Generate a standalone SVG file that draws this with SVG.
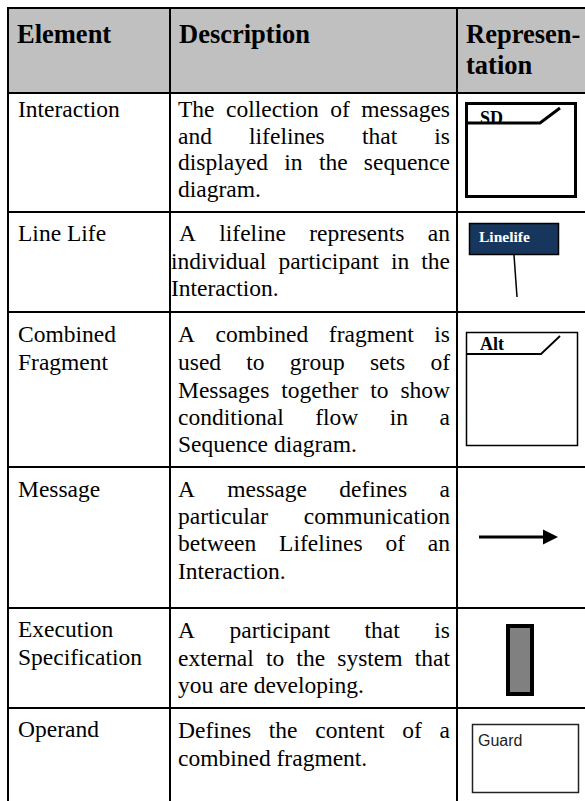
<svg xmlns="http://www.w3.org/2000/svg" width="585" height="801" viewBox="0 0 585 801">
  <style>
    .head { font-family: "Liberation Serif", "Times New Roman", serif; font-size: 26.5px; font-weight: bold; fill: #000; }
    .body { font-family: "Liberation Serif", "Times New Roman", serif; font-size: 23.5px; fill: #000; }
    .tag { font-family: "Liberation Serif", "Times New Roman", serif; font-size: 18px; font-weight: bold; fill: #000; }
    .rule { stroke: #000; stroke-width: 2; fill: none; }
    .sym { stroke: #000; fill: none; }
  </style>
  <rect width="585" height="801" fill="#fff"/>

  <!-- header band -->
  <g id="header">
    <rect x="8" y="8" width="577" height="85" fill="#c0c0c0"/>
    <text class="head" x="17" y="43">Element</text>
    <text class="head" x="179" y="43">Description</text>
    <text class="head" x="466" y="43">Represen-</text>
    <text class="head" x="466" y="74">tation</text>
  </g>

  <!-- table rules -->
  <g id="grid" class="rule">
    <line x1="8" y1="7" x2="8" y2="801"/>
    <line x1="170" y1="7" x2="170" y2="801"/>
    <line x1="457" y1="7" x2="457" y2="801"/>
    <line x1="7" y1="8" x2="585" y2="8"/>
    <line x1="7" y1="93" x2="585" y2="93"/>
    <line x1="7" y1="212" x2="585" y2="212"/>
    <line x1="7" y1="312" x2="585" y2="312"/>
    <line x1="7" y1="467" x2="585" y2="467"/>
    <line x1="7" y1="608" x2="585" y2="608"/>
    <line x1="7" y1="708" x2="585" y2="708"/>
  </g>

  <!-- row: Interaction -->
  <g id="row-interaction">
    <text class="body" x="18" y="117">Interaction</text>
    <text class="body" y="117"><tspan x="178">The</tspan><tspan x="226.02">collection</tspan><tspan x="330.18">of</tspan><tspan x="361.24">messages</tspan></text>
    <text class="body" y="143.5"><tspan x="178">and</tspan><tspan x="249.07">lifelines</tspan><tspan x="361.93">that</tspan><tspan x="434.32">is</tspan></text>
    <text class="body" y="170"><tspan x="178">displayed</tspan><tspan x="284.34">in</tspan><tspan x="318.88">the</tspan><tspan x="363.86">sequence</tspan></text>
    <text class="body" x="178" y="196.5">diagram.</text>
    <g id="sym-interaction">
      <rect class="sym" x="466.5" y="103.5" width="109" height="93" stroke-width="3"/>
      <text class="tag" x="480" y="124">SD</text>
      <polyline class="sym" points="466,123 540,123 560,108" stroke-width="3"/>
    </g>
  </g>

  <!-- row: Line Life -->
  <g id="row-lifeline">
    <text class="body" x="18" y="241">Line Life</text>
    <text class="body" y="241"><tspan x="179">A</tspan><tspan x="219.3">lifeline</tspan><tspan x="309.21">represents</tspan><tspan x="427.81">an</tspan></text>
    <text class="body" y="268.5"><tspan x="171">individual</tspan><tspan x="278.38">participant</tspan><tspan x="390.95">in</tspan><tspan x="421.29">the</tspan></text>
    <text class="body" x="171" y="296">Interaction.</text>
    <g id="sym-lifeline">
      <rect x="469.5" y="223.5" width="89" height="31" fill="#17365d" stroke="#000" stroke-width="1.5"/>
      <text x="479" y="242" font-family="Liberation Serif, serif" font-size="15.5" font-weight="bold" fill="#fff">Linelife</text>
      <line class="sym" x1="514" y1="255" x2="517" y2="297" stroke-width="1.5"/>
    </g>
  </g>

  <!-- row: Combined Fragment -->
  <g id="row-fragment">
    <text class="body" x="18" y="342">Combined</text>
    <text class="body" x="18" y="370">Fragment</text>
    <text class="body" y="342"><tspan x="178">A</tspan><tspan x="215.58">combined</tspan><tspan x="328.87">fragment</tspan><tspan x="434.32">is</tspan></text>
    <text class="body" y="370"><tspan x="178">used</tspan><tspan x="246.33">to</tspan><tspan x="289.86">group</tspan><tspan x="369.94">sets</tspan><tspan x="430.44">of</tspan></text>
    <text class="body" y="397.5"><tspan x="178">Messages</tspan><tspan x="281.28">together</tspan><tspan x="370.2">to</tspan><tspan x="400.39">show</tspan></text>
    <text class="body" y="425"><tspan x="178">conditional</tspan><tspan x="315.24">flow</tspan><tspan x="389.81">in</tspan><tspan x="439.58">a</tspan></text>
    <text class="body" x="178" y="452">Sequence diagram.</text>
    <g id="sym-fragment">
      <rect class="sym" x="466.5" y="332.5" width="111" height="113" stroke-width="1.5"/>
      <text class="tag" x="480" y="350">Alt</text>
      <polyline class="sym" points="466,354 541,354 560,336" stroke-width="1.8"/>
    </g>
  </g>

  <!-- row: Message -->
  <g id="row-message">
    <text class="body" x="18" y="497">Message</text>
    <text class="body" y="497"><tspan x="178">A</tspan><tspan x="227.34">message</tspan><tspan x="339.33">defines</tspan><tspan x="439.57">a</tspan></text>
    <text class="body" y="524"><tspan x="178">particular</tspan><tspan x="303.78">communication</tspan></text>
    <text class="body" y="551"><tspan x="178">between</tspan><tspan x="279.1">Lifelines</tspan><tspan x="385.44">of</tspan><tspan x="427.82">an</tspan></text>
    <text class="body" x="178" y="579">Interaction.</text>
    <g id="sym-message">
      <line class="sym" x1="479" y1="537" x2="545" y2="537" stroke-width="3"/>
      <polygon points="543,529.5 558,537 543,544.5" fill="#000"/>
    </g>
  </g>

  <!-- row: Execution Specification -->
  <g id="row-execution">
    <text class="body" x="18" y="637">Execution</text>
    <text class="body" x="18" y="665">Specification</text>
    <text class="body" y="638"><tspan x="178">A</tspan><tspan x="229.5">participant</tspan><tspan x="364.54">that</tspan><tspan x="434.32">is</tspan></text>
    <text class="body" y="666"><tspan x="178">external</tspan><tspan x="265.89">to</tspan><tspan x="296.37">the</tspan><tspan x="337.29">system</tspan><tspan x="414.77">that</tspan></text>
    <text class="body" x="178" y="693">you are developing.</text>
    <g id="sym-execution">
      <rect x="508" y="626" width="24" height="68" fill="#808080" stroke="#000" stroke-width="4"/>
    </g>
  </g>

  <!-- row: Operand -->
  <g id="row-operand">
    <text class="body" x="18" y="737">Operand</text>
    <text class="body" y="738"><tspan x="178">Defines</tspan><tspan x="268.84">the</tspan><tspan x="315.31">content</tspan><tspan x="402.24">of</tspan><tspan x="439.57">a</tspan></text>
    <text class="body" x="178" y="766">combined fragment.</text>
    <g id="sym-operand">
      <rect x="472.5" y="724.5" width="106" height="68" fill="#fff" stroke="#222" stroke-width="1.5"/>
      <text x="478" y="746" font-family="Liberation Sans, Arial, sans-serif" font-size="16" fill="#222">Guard</text>
    </g>
  </g>
</svg>
